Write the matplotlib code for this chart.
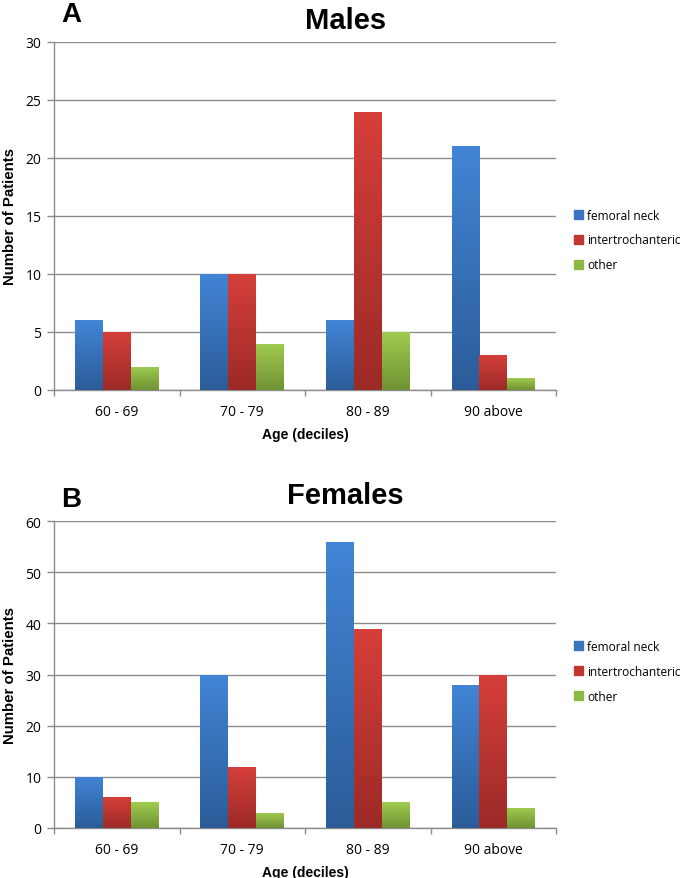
import numpy as np
import matplotlib
matplotlib.use('Agg')
import matplotlib.pyplot as plt
from matplotlib.colors import LinearSegmentedColormap

# data
AGE_GROUPS = ['60 - 69', '70 - 79', '80 - 89', '90 above']
SERIES = ['femoral neck', 'intertrochanteric', 'other']
MALES_FEMORAL = [6, 10, 6, 21]
MALES_INTERTROCH = [5, 10, 24, 3]
MALES_OTHER = [2, 4, 5, 1]
FEMALES_FEMORAL = [10, 30, 56, 28]
FEMALES_INTERTROCH = [6, 12, 39, 30]
FEMALES_OTHER = [5, 3, 5, 4]

# (top colour, bottom colour) for the Excel-like gradient
COLORS = [('#4285d6', '#2b5c98'), ('#d63f3a', '#9c2a27'), ('#a0cc50', '#6f9233')]
LEGEND_COLORS = ['#3a74c0', '#c23632', '#8db843']
GRID = '#8c8c8c'
TICK_FONT = 'Open Sans'
BOLD_FONT = 'Liberation Sans'

BAR_W = 0.222


def gradient_bars(ax, values, offset, cols):
    x = np.arange(len(values)) + offset
    bars = ax.bar(x, values, BAR_W, color='none', edgecolor='none', zorder=3)
    cmap = LinearSegmentedColormap.from_list('g', [cols[1], cols[0]])
    grad = np.linspace(0, 1, 256).reshape(-1, 1)
    for b in bars:
        x0, y0 = b.get_x(), b.get_y()
        im = ax.imshow(grad, cmap=cmap, origin='lower', aspect='auto', zorder=3,
                       extent=(x0, x0 + b.get_width(), y0, y0 + b.get_height()))
        im.set_clip_path(b)
    return bars


def panel(ax, series, ymax, step, legend_y):
    for i, (vals, cols) in enumerate(zip(series, COLORS)):
        gradient_bars(ax, vals, (i - 1) * BAR_W, cols)
    ax.set_xlim(-0.5, len(AGE_GROUPS) - 0.5)
    ax.set_ylim(0, ymax)
    ax.set_yticks(np.arange(0, ymax + 1, step))
    ax.yaxis.grid(True, color=GRID, linewidth=1.0, zorder=0)
    ax.set_axisbelow(True)
    for s in ['top', 'right']:
        ax.spines[s].set_visible(False)
    for s in ['left', 'bottom']:
        ax.spines[s].set_color(GRID)
        ax.spines[s].set_linewidth(1.0)
    ax.set_xticks(range(len(AGE_GROUPS)))
    ax.set_xticklabels(AGE_GROUPS, fontfamily=TICK_FONT, fontsize=10)
    ax.tick_params(axis='x', which='major', length=0, pad=10)
    ax.set_xticks(np.arange(-0.5, len(AGE_GROUPS), 1.0), minor=True)
    ax.tick_params(axis='x', which='minor', length=4, color=GRID, width=1)
    ax.tick_params(axis='y', length=5, color=GRID, width=1, pad=4)
    for lab in ax.get_yticklabels():
        lab.set_fontfamily(TICK_FONT)
        lab.set_fontsize(10)
    ax.set_xlabel('Age (deciles)', fontfamily=BOLD_FONT, fontweight='bold', fontsize=10, labelpad=6)
    ax.set_ylabel('Number of Patients', fontfamily=BOLD_FONT, fontweight='bold', fontsize=10.8, labelpad=6)
    handles = [plt.Rectangle((0, 0), 1, 1, color=c) for c in LEGEND_COLORS]
    ax.legend(handles, SERIES, loc='center left', bbox_to_anchor=(1.035, legend_y), frameon=False,
              prop={'family': TICK_FONT, 'size': 8.6}, handlelength=0.75, handleheight=0.75,
              handletextpad=0.4, labelspacing=1.0, borderaxespad=0, borderpad=0)


fig = plt.figure(figsize=(6.85, 8.79), dpi=100)
ax1 = fig.add_axes([0.0788, 0.5552, 0.733, 0.396])
ax2 = fig.add_axes([0.0788, 0.0569, 0.733, 0.349])

panel(ax1, [MALES_FEMORAL, MALES_INTERTROCH, MALES_OTHER], 30, 5, 0.431)
panel(ax2, [FEMALES_FEMORAL, FEMALES_INTERTROCH, FEMALES_OTHER], 60, 10, 0.511)

fig.text(0.504, 0.976, 'Males', ha='center', va='center', fontfamily=BOLD_FONT,
         fontweight='bold', fontsize=21)
fig.text(0.504, 0.436, 'Females', ha='center', va='center', fontfamily=BOLD_FONT,
         fontweight='bold', fontsize=21)
fig.text(0.089, 0.983, 'A', ha='left', va='center', fontfamily=BOLD_FONT,
         fontweight='bold', fontsize=20)
fig.text(0.089, 0.431, 'B', ha='left', va='center', fontfamily=BOLD_FONT,
         fontweight='bold', fontsize=20)

fig.savefig('out.png', dpi=100)
